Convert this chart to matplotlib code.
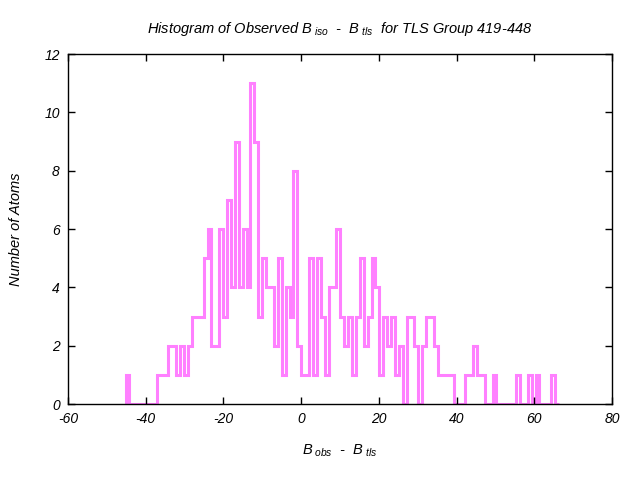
import numpy as np
import matplotlib
matplotlib.use("Agg")
import matplotlib.pyplot as plt

# histogram of B_obs - B_tls, one count per bin
bin_start = -45.2
bin_width = 1.005
counts = [1, 0, 0, 0, 0, 0, 0, 0, 1, 1,
          1, 2, 2, 1, 2, 1, 2, 3, 3, 3,
          5, 6, 2, 2, 6, 3, 7, 4, 9, 4,
          6, 4, 11, 9, 3, 5, 4, 4, 2, 5,
          1, 4, 3, 8, 2, 1, 1, 5, 1, 5,
          3, 1, 4, 4, 6, 3, 2, 3, 1, 3,
          5, 2, 3, 5, 4, 1, 3, 2, 3, 1,
          2, 0, 3, 3, 2, 0, 2, 3, 3, 2,
          1, 1, 1, 1, 0, 0, 0, 1, 1, 2,
          1, 1, 0, 0, 1, 0, 0, 0, 0, 0,
          1, 0, 0, 1, 0, 1, 0, 0, 0, 1,
          0]
edges = bin_start + bin_width * np.arange(len(counts) + 1)

xticks = [-60, -40, -20, 0, 20, 40, 60, 80]
yticks = [0, 2, 4, 6, 8, 10, 12]

plt.rcParams['font.family'] = ['Liberation Sans', 'DejaVu Sans']
plt.rcParams['font.style'] = 'italic'
plt.rcParams['axes.unicode_minus'] = False
plt.rcParams['mathtext.fontset'] = 'custom'
plt.rcParams['mathtext.it'] = 'Liberation Sans:italic'
plt.rcParams['mathtext.rm'] = 'Liberation Sans:italic'

fig = plt.figure(figsize=(6.4, 4.8), dpi=100)
ax = fig.add_axes([0.10625, 0.1583, 0.85, 0.7292])

ax.stairs(counts, edges, baseline=0, color='#ff80ff', linewidth=2.2)

ax.set_xlim(-60, 80)
ax.set_ylim(0, 12)
ax.set_xticks(xticks)
ax.set_yticks(yticks)
ax.tick_params(direction='in', top=True, right=True, length=5, width=1,
               labelsize=10, pad=6)
for lab in ax.get_xticklabels() + ax.get_yticklabels():
    lab.set_fontstyle('italic')
for s in ax.spines.values():
    s.set_linewidth(1)

ax.set_title(r"Histogram of Observed $B_{\ iso}$  -  $B_{\ tls}$  for TLS Group 419-448",
             fontsize=10.5, pad=15)
ax.set_xlabel(r"$B_{\ obs}$  -  $B_{\ tls}$", fontsize=10.5, labelpad=12)
ax.set_ylabel("Number of Atoms", fontsize=10.5, labelpad=15)

fig.savefig("out.png", dpi=100)
